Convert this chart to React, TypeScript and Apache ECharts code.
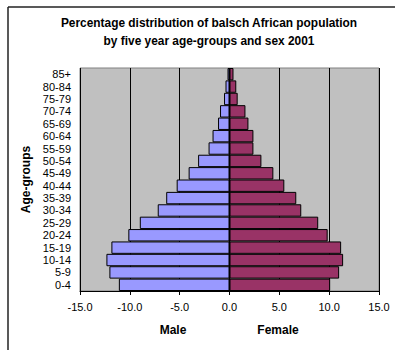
import React, { useEffect, useRef } from "react";
import * as echarts from "echarts";

const ageGroups = ["0-4", "5-9", "10-14", "15-19", "20-24", "25-29", "30-34", "35-39", "40-44", "45-49", "50-54", "55-59", "60-64", "65-69", "70-74", "75-79", "80-84", "85+"];
const maleValues = [-11.1, -12.05, -12.35, -11.85, -10.15, -9.0, -7.2, -6.35, -5.3, -4.1, -3.15, -2.1, -1.7, -1.15, -0.95, -0.55, -0.4, -0.2];
const femaleValues = [10.1, 11.0, 11.4, 11.2, 9.85, 8.9, 7.2, 6.7, 5.5, 4.4, 3.2, 2.4, 2.4, 1.9, 1.6, 0.82, 0.68, 0.4];
const xTicks = { min: -15, max: 15, interval: 5 };

export default function App() {
  const ref = useRef<HTMLDivElement>(null);
  useEffect(() => {
    const chart = echarts.init(ref.current!, null, { renderer: "svg" });
    const font = "Arial, 'Liberation Sans', sans-serif";
    chart.setOption({
      animation: false,
      backgroundColor: "#ffffff",
      title: {
        text: "Percentage distribution of balsch African population\nby five year age-groups and sex 2001",
        left: 204,
        textAlign: "center",
        top: 9,
        textStyle: { fontFamily: font, fontSize: 11.9, fontWeight: "bold", color: "#000", lineHeight: 18 },
      },
      grid: {
        left: 80, right: 19, top: 68, bottom: 59,
        show: true, backgroundColor: "#C0C0C0", borderColor: "#808080", borderWidth: 1,
      },
      xAxis: {
        type: "value",
        min: xTicks.min, max: xTicks.max, interval: xTicks.interval,
        axisLine: { show: true, onZero: false, lineStyle: { color: "#000" } },
        axisTick: { show: true, length: 4, lineStyle: { color: "#000" } },
        axisLabel: { fontFamily: font, fontSize: 11, color: "#000", margin: 10, formatter: (v: number) => v.toFixed(1) },
        splitLine: { show: true, lineStyle: { color: "#000", width: 1 } },
      },
      yAxis: {
        type: "category",
        data: ageGroups,
        axisLine: { show: false },
        axisTick: { show: false },
        axisLabel: { fontFamily: font, fontSize: 11, color: "#000", margin: 9, interval: 0 },
        name: "Age-groups",
        nameLocation: "middle",
        nameGap: 36,
        nameRotate: 90,
        nameTextStyle: { fontFamily: font, fontSize: 12, fontWeight: "bold", color: "#000" },
      },
      series: [
        {
          name: "Male", type: "bar", stack: "pop", data: maleValues, barCategoryGap: 0,
          itemStyle: { color: "#9999FF", borderColor: "#000", borderWidth: 1 },
        },
        {
          name: "Female", type: "bar", stack: "pop", data: femaleValues, barCategoryGap: 0,
          itemStyle: { color: "#993366", borderColor: "#000", borderWidth: 1 },
        },
      ],
      graphic: [
        { type: "line", shape: { x1: 8, y1: 7, x2: 395, y2: 7 }, style: { stroke: "#222", lineWidth: 1.5 } },
        { type: "line", shape: { x1: 8, y1: 7, x2: 8, y2: 350 }, style: { stroke: "#222", lineWidth: 1.5 } },
        { type: "text", x: 173, y: 330, style: { text: "Male", font: `bold 12px ${font}`, fill: "#000", textAlign: "center", textVerticalAlign: "middle" } },
        { type: "text", x: 278, y: 330, style: { text: "Female", font: `bold 12px ${font}`, fill: "#000", textAlign: "center", textVerticalAlign: "middle" } },
      ],
    });
    return () => chart.dispose();
  }, []);
  return <div ref={ref} style={{ position: "fixed", left: 0, top: 0, width: 398, height: 350 }} />;
}
